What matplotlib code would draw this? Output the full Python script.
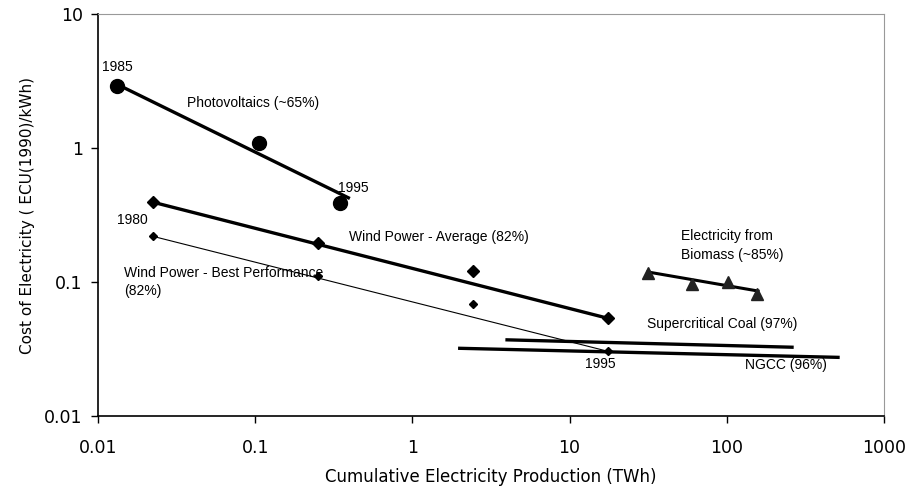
import numpy as np
import matplotlib
matplotlib.use('Agg')
import matplotlib.pyplot as plt

# 読み取った値 (log-log)
pv_x = [0.0132, 0.106, 0.346]
pv_y = [2.9, 1.1, 0.39]
pv_fit_x = [0.0132, 0.40]
pv_fit_y = [3.0, 0.42]

wind_x = [0.0224, 0.25, 2.43, 17.5]
wind_avg_y = [0.394, 0.194, 0.120, 0.0535]
wind_best_y = [0.219, 0.110, 0.068, 0.0303]
wind_fit_x = [0.0224, 17.5]
wind_avg_fit_y = [0.394, 0.0535]
wind_best_fit_y = [0.219, 0.0303]

bio_x = [31.5, 59.8, 102, 155]
bio_y = [0.1166, 0.097, 0.100, 0.0817]
bio_fit_x = [31.5, 158]
bio_fit_y = [0.1186, 0.0855]

coal_x = [4.0, 260]
coal_y = [0.0369, 0.0325]
ngcc_x = [2.0, 510]
ngcc_y = [0.0319, 0.0273]

xticks = [0.01, 0.1, 1, 10, 100, 1000]
xticklabels = ['0.01', '0.1', '1', '10', '100', '1000']
yticks = [0.01, 0.1, 1, 10]
yticklabels = ['0.01', '0.1', '1', '10']

plt.rcParams['font.family'] = ['Liberation Sans', 'DejaVu Sans']

fig = plt.figure(figsize=(9.17, 4.87), dpi=100)
ax = fig.add_axes([0.1069, 0.1464, 0.964 - 0.1069, 0.9706 - 0.1464])

# 太陽光
ax.plot(pv_fit_x, pv_fit_y, color='black', lw=2.4, solid_capstyle='butt')
ax.plot(pv_x, pv_y, 'o', color='black', ms=10)

# 風力
ax.plot(wind_fit_x, wind_avg_fit_y, color='black', lw=2.4)
ax.plot(wind_x, wind_avg_y, 'D', color='black', ms=6.5)
ax.plot(wind_fit_x, wind_best_fit_y, color='black', lw=0.8)
ax.plot(wind_x, wind_best_y, 'D', color='black', ms=3.6)

# バイオマス
ax.plot(bio_fit_x, bio_fit_y, color='black', lw=2.2)
ax.plot(bio_x, bio_y, '^', color='#222222', ms=9)

# 石炭 / NGCC
ax.plot(coal_x, coal_y, color='black', lw=2.4)
ax.plot(ngcc_x, ngcc_y, color='black', lw=2.4)

fs = 10
ax.text(0.0132, 4.04, '1985', fontsize=fs, ha='center', va='center')
ax.text(0.0368, 2.17, 'Photovoltaics (~65%)', fontsize=fs, ha='left', va='center')
ax.text(0.336, 0.503, '1995', fontsize=fs, ha='left', va='center')
ax.text(0.0132, 0.290, '1980', fontsize=fs, ha='left', va='center')
ax.text(0.395, 0.217, 'Wind Power - Average (82%)', fontsize=fs, ha='left', va='center')
ax.text(0.0146, 0.0998, 'Wind Power - Best Performance\n(82%)', fontsize=fs,
        ha='left', va='center', linespacing=1.4)
ax.text(15.6, 0.0243, '1995', fontsize=fs, ha='center', va='center')
ax.text(51.2, 0.187, 'Electricity from\nBiomass (~85%)', fontsize=fs,
        ha='left', va='center', linespacing=1.4)
ax.text(31.1, 0.0485, 'Supercritical Coal (97%)', fontsize=fs, ha='left', va='center')
ax.text(130.6, 0.0239, 'NGCC (96%)', fontsize=fs, ha='left', va='center')

ax.set_xscale('log')
ax.set_yscale('log')
ax.set_xlim(0.01, 1000)
ax.set_ylim(0.01, 10)
ax.set_xticks(xticks)
ax.set_xticklabels(xticklabels, family='DejaVu Sans')
ax.set_yticks(yticks)
ax.set_yticklabels(yticklabels, family='DejaVu Sans')
ax.minorticks_off()
ax.tick_params(direction='out', length=5, width=1, labelsize=12.5)
ax.tick_params(axis='x', pad=12)
ax.tick_params(axis='y', pad=6)

ax.spines['top'].set_color('#999999')
ax.spines['right'].set_color('#999999')
ax.spines['left'].set_linewidth(1.2)
ax.spines['bottom'].set_linewidth(1.2)

ax.set_xlabel('Cumulative Electricity Production (TWh)', fontsize=12,
              family='DejaVu Sans', labelpad=8)
ax.set_ylabel('Cost of Electricity ( ECU(1990)/kWh)', fontsize=11,
              family='DejaVu Sans', labelpad=7)

fig.savefig('out.png', dpi=100)
